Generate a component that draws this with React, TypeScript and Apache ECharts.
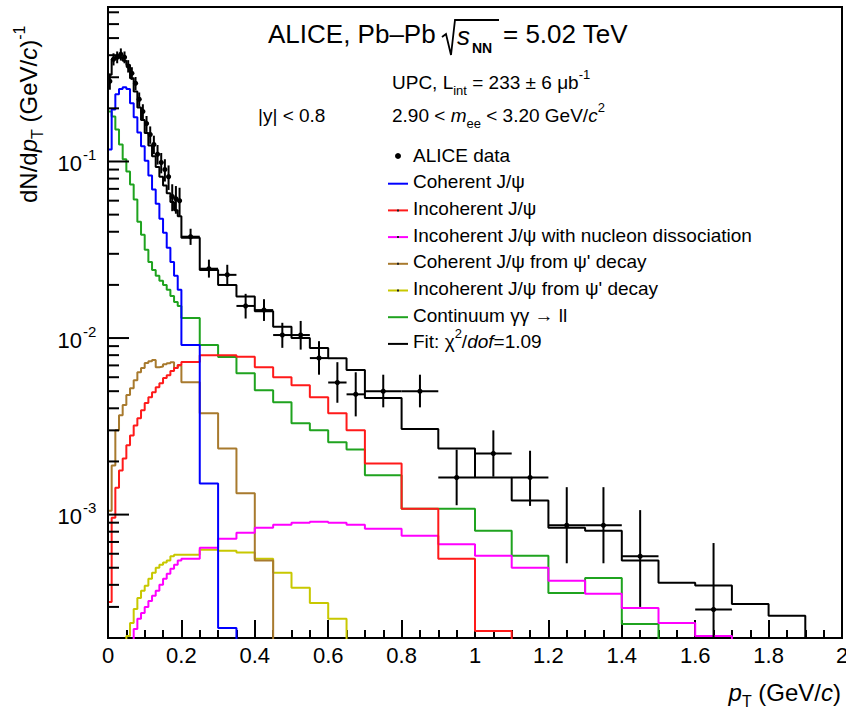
import { useEffect, useRef } from 'react';
import * as echarts from 'echarts';

const FONT = '"Liberation Sans", Arial, Helvetica, sans-serif';

// pT bin edges (GeV/c): 10 MeV bins up to 0.2, 50 MeV up to 0.7, 100 MeV up to 2
const binEdges = [
  0, 0.01, 0.02, 0.03, 0.04, 0.05, 0.06, 0.07, 0.08, 0.09, 0.1,
  0.11, 0.12, 0.13, 0.14, 0.15, 0.16, 0.17, 0.18, 0.19, 0.2,
  0.25, 0.3, 0.35, 0.4, 0.45, 0.5, 0.55, 0.6, 0.65, 0.7,
  0.8, 0.9, 1.0, 1.1, 1.2, 1.3, 1.4, 1.5, 1.6, 1.7, 1.8, 1.9, 2.0,
];

// Template contributions per bin, dN/dpT (GeV/c)^-1
const coherent = [
  0.117, 0.197, 0.24, 0.257, 0.263, 0.257, 0.214, 0.178, 0.146, 0.122,
  0.101, 0.0833, 0.0693, 0.0577, 0.0474, 0.0395, 0.0325, 0.027, 0.0225, 0.0188,
  0.00912, 0.0015, 0.000228, 0, 0, 0, 0, 0, 0, 0,
  0, 0, 0, 0, 0, 0, 0, 0, 0, 0, 0, 0, 0,
];
const incoherent = [
  0.00032, 0.00096, 0.00142, 0.00178, 0.00208, 0.00247, 0.00281, 0.0032, 0.00351, 0.0039,
  0.00428, 0.00462, 0.00493, 0.00527, 0.00555, 0.00593, 0.00616, 0.0065, 0.00676, 0.00703,
  0.00731, 0.008, 0.008, 0.00783, 0.00684, 0.006, 0.0054, 0.00462, 0.00375, 0.003,
  0.00195, 0.00108, 0.000562, 0.000219, 0, 0, 0, 0, 0, 0, 0, 0, 0,
];
const dissociative = [
  0, 0, 0, 0, 0, 0, 0, 0.000225, 0.000257, 0.000277,
  0.0003, 0.000324, 0.000347, 0.00037, 0.0004, 0.000433, 0.000462, 0.000493, 0.00052, 0.00055,
  0.000562, 0.00065, 0.00073, 0.00079, 0.000842, 0.000877, 0.0009, 0.00091, 0.0009, 0.000877,
  0.000832, 0.00076, 0.00068, 0.000585, 0.0005, 0.000422, 0.000356, 0.000296, 0.000243, 0.000205, 0, 0, 0,
];
const coherentFeedDown = [
  0.00105, 0.0019, 0.003, 0.00365, 0.00417, 0.00475, 0.0052, 0.00577, 0.0064, 0.00676,
  0.00722, 0.0074, 0.0075, 0.00684, 0.0069, 0.0071, 0.0072, 0.0073, 0.00676, 0.007,
  0.00562, 0.00375, 0.00237, 0.00132, 0.00055, 0, 0, 0, 0, 0,
  0, 0, 0, 0, 0, 0, 0, 0, 0, 0, 0, 0, 0,
];
const incoherentFeedDown = [
  0, 0, 0, 0, 0, 0.000205, 0.000243, 0.000292, 0.000337, 0.00037,
  0.000395, 0.000433, 0.000468, 0.0005, 0.00052, 0.000535, 0.00055, 0.00058, 0.000593, 0.000593,
  0.000593, 0.000633, 0.000625, 0.000609, 0.000562, 0.000468, 0.000385, 0.000316, 0.000257, 0,
  0, 0, 0, 0, 0, 0, 0, 0, 0, 0, 0, 0, 0,
];
const continuum = [
  0.192, 0.18, 0.152, 0.125, 0.103, 0.0877, 0.074, 0.061, 0.0456, 0.0385,
  0.0316, 0.027, 0.0243, 0.0225, 0.0211, 0.02, 0.01875, 0.0173, 0.016, 0.0152,
  0.013, 0.00912, 0.0078, 0.00632, 0.00507, 0.00433, 0.00329, 0.003, 0.00257, 0.00234,
  0.00167, 0.00108, 0.00108, 0.00081, 0.000585, 0.00036, 0.000438, 0.00024, 0, 0, 0, 0, 0,
];
const fitTotal = [
  0.31, 0.38, 0.396, 0.387, 0.372, 0.352, 0.296, 0.249, 0.202, 0.172,
  0.145, 0.123, 0.107, 0.093, 0.082, 0.073, 0.066, 0.059, 0.053, 0.049,
  0.037, 0.0243, 0.02, 0.0172, 0.0142, 0.0116, 0.01, 0.00877, 0.00769, 0.0066,
  0.00457, 0.00305, 0.00237, 0.00162, 0.0012, 0.000843, 0.00081, 0.00055, 0.000411, 0.000396, 0.000312, 0.000267, 0,
];

// Measured points: bin centre, half bin width, value, upper / lower uncertainty
const dataPt = [
  0.005, 0.015, 0.025, 0.035, 0.045, 0.055, 0.065, 0.075, 0.085, 0.095,
  0.105, 0.115, 0.125, 0.135, 0.145, 0.155, 0.165, 0.175, 0.185, 0.195,
  0.225, 0.275, 0.325, 0.375, 0.425, 0.475, 0.525, 0.575, 0.625, 0.675,
  0.75, 0.85, 0.95, 1.05, 1.15, 1.25, 1.35, 1.45, 1.65,
];
const dataHalfWidth = [
  0.005, 0.005, 0.005, 0.005, 0.005, 0.005, 0.005, 0.005, 0.005, 0.005,
  0.005, 0.005, 0.005, 0.005, 0.005, 0.005, 0.005, 0.005, 0.005, 0.005,
  0.025, 0.025, 0.025, 0.025, 0.025, 0.025, 0.025, 0.025, 0.025, 0.025,
  0.05, 0.05, 0.05, 0.05, 0.05, 0.05, 0.05, 0.05, 0.05,
];
const dataVal = [
  0.285, 0.38, 0.39, 0.405, 0.39, 0.347, 0.316, 0.277, 0.225, 0.192,
  0.164, 0.142, 0.125, 0.11, 0.0987, 0.09, 0.082, 0.0633, 0.0616, 0.06,
  0.0375, 0.0247, 0.0228, 0.0152, 0.0144, 0.0104, 0.0104, 0.0077, 0.0056, 0.0048,
  0.005, 0.005, 0.00162, 0.00222, 0.00162, 0.00087, 0.00087, 0.00058, 0.00029,
];
const dataErrUp = [
  0.03, 0.03, 0.03, 0.032, 0.03, 0.028, 0.026, 0.024, 0.021, 0.019,
  0.017, 0.016, 0.015, 0.014, 0.013, 0.013, 0.013, 0.011, 0.011, 0.011,
  0.0041, 0.0031, 0.0032, 0.0026, 0.0022, 0.0018, 0.0021, 0.0019, 0.0017, 0.0016,
  0.0012, 0.0012, 0.00071, 0.00078, 0.00068, 0.00056, 0.00056, 0.00048, 0.0004,
];
const dataErrDown = [
  0.03, 0.03, 0.03, 0.032, 0.03, 0.028, 0.026, 0.024, 0.021, 0.019,
  0.017, 0.016, 0.015, 0.014, 0.013, 0.013, 0.013, 0.011, 0.011, 0.011,
  0.0038, 0.0027, 0.0027, 0.0023, 0.0019, 0.0016, 0.0018, 0.0015, 0.0013, 0.0012,
  0.00095, 0.00095, 0.00049, 0.00058, 0.0005, 0.00034, 0.00034, 0.00028, 0.00029,
];

// Log axis decorations
const yDecades = [1e-4, 1e-3, 1e-2, 1e-1];
const yMinorSteps = [2, 3, 4, 5, 6, 7, 8, 9];
const yLabelExponents = ['-3', '-2', '-1'];

const Y_MIN = 2e-4;
const Y_MAX = 0.75;
const FLOOR = 1e-6;

const BLUE = '#0000ff';
const RED = '#ff1a1a';
const MAGENTA = '#ff00ff';
const BROWN = '#a87a2e';
const YELLOW = '#c8c800';
const GREEN = '#1fa31f';
const BLACK = '#000000';

function histogramOutline(values: number[]) {
  const pts: number[][] = [[binEdges[0], FLOOR]];
  values.forEach((v, i) => {
    const y = v > 0 ? v : FLOOR;
    pts.push([binEdges[i], y], [binEdges[i + 1], y]);
  });
  pts.push([binEdges[binEdges.length - 1], FLOOR]);
  return pts;
}

function rich(size: number) {
  const small = Math.round(size * 0.66);
  return {
    a: { fontSize: size, fontFamily: FONT, color: '#000', lineHeight: size + 10 },
    i: { fontSize: size, fontFamily: FONT, color: '#000', fontStyle: 'italic', lineHeight: size + 10 },
    b: { fontSize: size, fontFamily: FONT, color: '#000', fontWeight: 'bold', lineHeight: size + 10 },
    sup: { fontSize: small, fontFamily: FONT, color: '#000', lineHeight: small, verticalAlign: 'top' },
    sub: { fontSize: small, fontFamily: FONT, color: '#000', lineHeight: small, verticalAlign: 'bottom' },
  };
}

const legendRows = [
  { text: '{a|ALICE data}', color: BLACK, kind: 'marker' },
  { text: '{a|Coherent J/ψ}', color: BLUE, kind: 'line' },
  { text: '{a|Incoherent J/ψ}', color: RED, kind: 'dot' },
  { text: '{a|Incoherent J/ψ with nucleon dissociation}', color: MAGENTA, kind: 'dot' },
  { text: "{a|Coherent J/ψ from ψ' decay}", color: BROWN, kind: 'dot' },
  { text: "{a|Incoherent J/ψ from ψ' decay}", color: YELLOW, kind: 'dot' },
  { text: '{a|Continuum γγ → ll}', color: GREEN, kind: 'line' },
  { text: '{a|Fit: χ}{sup|2}{a|/}{i|dof}{a|=1.09}', color: BLACK, kind: 'line' },
];

function buildLegend() {
  const els: any[] = [];
  legendRows.forEach((row, k) => {
    const y = 155 + k * 26.7;
    if (row.kind === 'marker') {
      els.push({ type: 'circle', shape: { cx: 398, cy: y + 1, r: 3 }, style: { fill: '#000' }, z: 20 });
    } else {
      els.push({
        type: 'line',
        shape: { x1: 388, y1: y + 2, x2: 408, y2: y + 2 },
        style: { stroke: row.color, lineWidth: 2 },
        z: 20,
      });
      if (row.kind === 'dot') {
        els.push({ type: 'rect', shape: { x: 397, y: y + 1, width: 2, height: 2 }, style: { fill: '#222' }, z: 21 });
      }
    }
    els.push({
      type: 'text',
      x: 413,
      y,
      z: 20,
      style: { text: row.text, rich: rich(19), fill: '#000', verticalAlign: 'middle', align: 'left' },
    });
  });
  return els;
}

export default function App() {
  const ref = useRef<HTMLDivElement>(null);

  useEffect(() => {
    if (!ref.current) return;
    const chart = echarts.init(ref.current, undefined, { renderer: 'svg' });

    const yTicks: number[][] = [];
    yDecades.forEach((d) => {
      if (d >= Y_MIN && d <= Y_MAX) yTicks.push([0, d, 1]);
      yMinorSteps.forEach((m) => {
        const v = d * m;
        if (v > Y_MIN * 1.01 && v <= Y_MAX) yTicks.push([0, v, 0]);
      });
    });
    const yLabels = yDecades
      .filter((d) => d >= Y_MIN && d <= Y_MAX)
      .map((d, i) => [0, d, i]);

    const hist = (name: string, values: number[], color: string, z: number) => ({
      name,
      type: 'line',
      data: histogramOutline(values),
      showSymbol: false,
      symbol: 'none',
      clip: true,
      silent: true,
      z,
      lineStyle: { color, width: 2 },
    });

    chart.setOption({
      animation: false,
      backgroundColor: '#ffffff',
      grid: {
        left: 108,
        right: 4,
        top: 7,
        bottom: 73,
        show: true,
        borderColor: '#000',
        borderWidth: 2,
        backgroundColor: 'transparent',
        outerBoundsMode: 'none',
        containLabel: false,
      },
      xAxis: {
        type: 'value',
        min: 0,
        max: 2,
        interval: 0.2,
        axisLine: { show: true, onZero: false, lineStyle: { color: '#000', width: 2 } },
        axisTick: { show: true, inside: true, length: 18, lineStyle: { color: '#000', width: 2 } },
        minorTick: { show: true, splitNumber: 4, length: 8, lineStyle: { color: '#000', width: 2 } },
        axisLabel: { color: '#000', fontSize: 22, fontFamily: FONT, margin: 6 },
        splitLine: { show: false },
        minorSplitLine: { show: false },
      },
      yAxis: {
        type: 'log',
        logBase: 10,
        min: Y_MIN,
        max: Y_MAX,
        axisLine: { show: false },
        axisTick: { show: false },
        axisLabel: { show: false },
        splitLine: { show: false },
      },
      series: [
        hist('Continuum γγ → ll', continuum, GREEN, 2),
        hist("Incoherent J/ψ from ψ' decay", incoherentFeedDown, YELLOW, 2),
        hist("Coherent J/ψ from ψ' decay", coherentFeedDown, BROWN, 2),
        hist('Incoherent J/ψ with nucleon dissociation', dissociative, MAGENTA, 2),
        hist('Incoherent J/ψ', incoherent, RED, 2),
        hist('Coherent J/ψ', coherent, BLUE, 2),
        hist('Fit', fitTotal, BLACK, 3),
        {
          name: 'ALICE data',
          type: 'custom',
          coordinateSystem: 'cartesian2d',
          clip: true,
          silent: true,
          z: 4,
          encode: { x: 0, y: 1 },
          data: dataPt.map((x, i) => [x, dataVal[i], dataHalfWidth[i], dataErrUp[i], dataErrDown[i]]),
          renderItem: (_params: any, api: any) => {
            const x = api.value(0);
            const y = api.value(1);
            const hw = api.value(2);
            const up = api.value(3);
            const dn = api.value(4);
            const c = api.coord([x, y]);
            const top = api.coord([x, y + up]);
            const low = y - dn;
            const bot = api.coord([x, low > Y_MIN ? low : Y_MIN]);
            const l = api.coord([x - hw, y]);
            const r = api.coord([x + hw, y]);
            return {
              type: 'group',
              children: [
                { type: 'line', shape: { x1: c[0], y1: top[1], x2: c[0], y2: bot[1] }, style: { stroke: '#000', lineWidth: 2 } },
                { type: 'line', shape: { x1: l[0], y1: c[1], x2: r[0], y2: c[1] }, style: { stroke: '#000', lineWidth: 2 } },
                { type: 'circle', shape: { cx: c[0], cy: c[1], r: 2.6 }, style: { fill: '#000' } },
              ],
            };
          },
        },
        {
          name: 'y ticks',
          type: 'custom',
          coordinateSystem: 'cartesian2d',
          silent: true,
          z: 5,
          encode: { x: 0, y: 1 },
          data: yTicks,
          renderItem: (_params: any, api: any) => {
            const p = api.coord([0, api.value(1)]);
            const len = api.value(2) ? 21 : 11;
            return {
              type: 'line',
              shape: { x1: p[0], y1: p[1], x2: p[0] + len, y2: p[1] },
              style: { stroke: '#000', lineWidth: 2 },
            };
          },
        },
        {
          name: 'y labels',
          type: 'custom',
          coordinateSystem: 'cartesian2d',
          silent: true,
          z: 5,
          encode: { x: 0, y: 1 },
          data: yLabels,
          renderItem: (_params: any, api: any) => {
            const p = api.coord([0, api.value(1)]);
            const exp = yLabelExponents[api.value(2)];
            return {
              type: 'group',
              children: [
                {
                  type: 'text',
                  style: {
                    text: '10', x: p[0] - 26, y: p[1] + 2, align: 'right', verticalAlign: 'middle',
                    fontSize: 22, fontFamily: FONT, fill: '#000',
                  },
                },
                {
                  type: 'text',
                  style: {
                    text: exp, x: p[0] - 25, y: p[1] - 7, align: 'left', verticalAlign: 'middle',
                    fontSize: 15, fontFamily: FONT, fill: '#000',
                  },
                },
              ],
            };
          },
        },
      ],
      graphic: [
        // Title line with the radical sign drawn as a polyline
        { type: 'text', x: 268, y: 34, z: 20, style: { text: 'ALICE, Pb–Pb', fontSize: 26, fontFamily: FONT, fill: '#000', verticalAlign: 'middle' } },
        { type: 'polyline', z: 20, shape: { points: [[442, 37], [446, 34], [451, 55], [455, 20], [499, 20]] }, style: { stroke: '#000', lineWidth: 1.8, fill: 'none' } },
        { type: 'text', x: 457, y: 36, z: 20, style: { text: 's', fontSize: 26, fontStyle: 'italic', fontFamily: FONT, fill: '#000', verticalAlign: 'middle' } },
        { type: 'text', x: 472, y: 48, z: 20, style: { text: 'NN', fontSize: 14, fontWeight: 'bold', fontFamily: FONT, fill: '#000', verticalAlign: 'middle' } },
        { type: 'text', x: 503, y: 34, z: 20, style: { text: '= 5.02 TeV', fontSize: 26, fontFamily: FONT, fill: '#000', verticalAlign: 'middle' } },
        // Selection annotations
        { type: 'text', x: 392, y: 82, z: 20, style: { text: '{a|UPC, L}{sub|int}{a| = 233 ± 6 μb}{sup|-1}', rich: rich(19), verticalAlign: 'middle' } },
        { type: 'text', x: 392, y: 115, z: 20, style: { text: '{a|2.90 < }{i|m}{sub|ee}{a| < 3.20 GeV/}{i|c}{sup|2}', rich: rich(19), verticalAlign: 'middle' } },
        { type: 'text', x: 258, y: 115, z: 20, style: { text: '|y| < 0.8', fontSize: 19, fontFamily: FONT, fill: '#000', verticalAlign: 'middle' } },
        ...buildLegend(),
        // Axis titles
        { type: 'text', x: 841, y: 692, z: 20, style: { text: '{i|p}{sub|T}{a| (GeV/}{i|c}{a|)}', rich: rich(24), align: 'right', verticalAlign: 'middle' } },
        { type: 'text', x: 28, y: 203, rotation: Math.PI / 2, z: 20, style: { text: '{a|dN/d}{i|p}{sub|T}{a| (GeV/}{i|c}{a|)}{sup|-1}', rich: rich(24), align: 'left', verticalAlign: 'middle' } },
      ],
    });

    return () => chart.dispose();
  }, []);

  return (
    <div
      ref={ref}
      style={{ position: 'fixed', left: 0, top: 0, width: 846, height: 711, background: '#fff' }}
    />
  );
}
